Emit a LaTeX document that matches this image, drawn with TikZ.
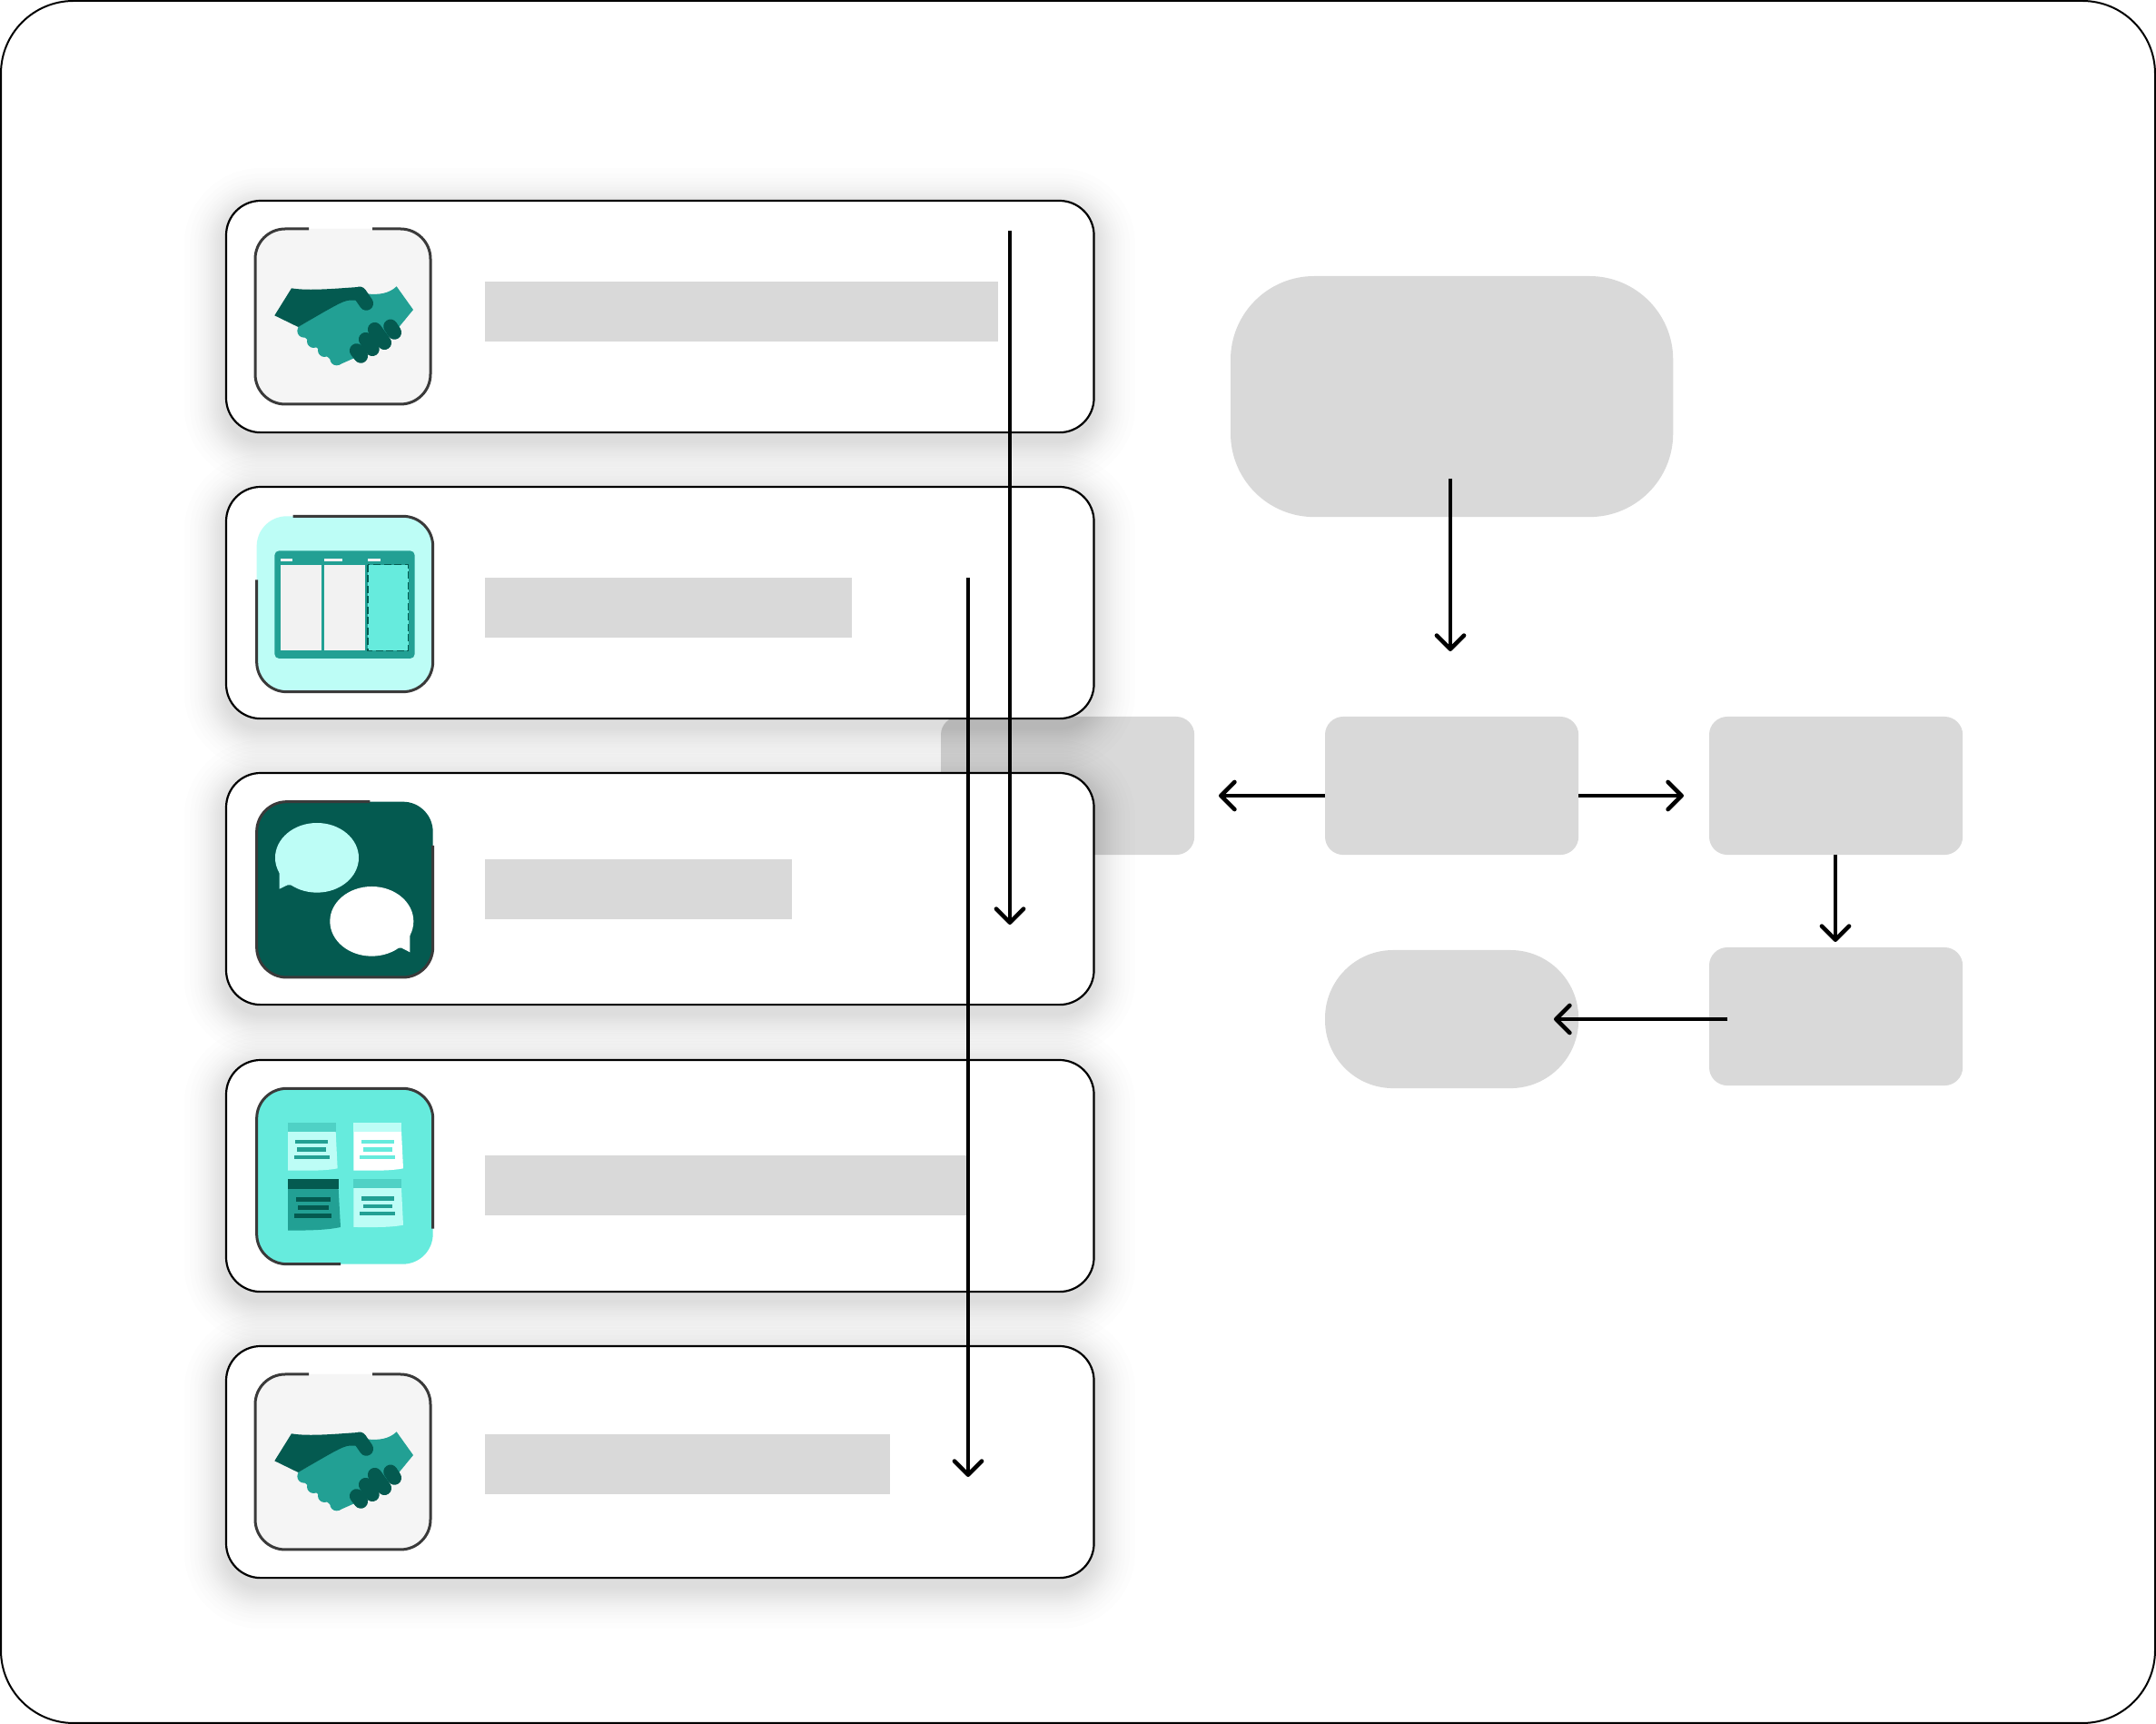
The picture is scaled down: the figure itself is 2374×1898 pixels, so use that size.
\documentclass[tikz,border=0pt]{standalone}
\usepackage{tikz}
\usetikzlibrary{arrows.meta,calc}
\usepackage{xcolor}

\definecolor{darkteal}{HTML}{045A50}
\definecolor{midteal}{HTML}{22A094}
\definecolor{softteal}{HTML}{4FD1C5}
\definecolor{brightteal}{HTML}{66EBDD}
\definecolor{paleteal}{HTML}{BDFDF6}
\definecolor{blockgray}{HTML}{D9D9D9}
\definecolor{iconedge}{HTML}{3A3A3A}

\tikzset{
  card/.style={draw=black, line width=.022cm, fill=white, rounded corners=.38cm,
    minimum width=9.55cm, minimum height=2.55cm, inner sep=0pt, outer sep=0pt, anchor=north west},
  bar/.style={fill=blockgray, minimum height=.66cm, inner sep=0pt, outer sep=0pt, anchor=north west},
  block/.style={fill=blockgray, rounded corners=.2cm, minimum width=2.79cm,
    minimum height=1.52cm, inner sep=0pt, outer sep=0pt, anchor=north west},
  flow/.style={line width=.047cm, -{Straight Barb[length=.15cm,width=.30cm,round]}},
  iconline/.style={draw=iconedge, line width=.03cm, rounded corners=.33cm},
  handshake/.pic={
    %% open hand, fingers, then the arm and thumb over it
    \fill[midteal] (265,450) -- (420,355) -- (490,340) .. controls (530,345) and (565,340) .. (590,316)
      -- (645,393) -- (590,460) -- (490,535) -- (400,575) -- (375,560) -- (270,470) -- cycle;
    \foreach \fx/\fy in {284/463, 316/497, 352/527, 392/555}
      \fill[midteal] (\fx,\fy) circle [radius=22];
    \fill[darkteal] (243,322) .. controls (300,332) and (400,322) .. (465,318) -- (470,362) -- (445,362)
      .. controls (420,360) and (410,365) .. (265,450) -- (187,412) -- cycle;
    \draw[darkteal, line width=.155cm, line cap=round] (468,340) -- (490,372);
    \foreach \ax/\ay/\bx/\by in {458/528/472/546, 488/491/510/523, 518/458/550/502, 570/448/583/468}
      \draw[darkteal, line width=.155cm, line cap=round] (\ax,\ay) -- (\bx,\by);
  }
}

\newcommand{\cardshadow}[2]{%
  \foreach \g in {46,40,35,31,28,25,22,20,18,16,14,12,10,8,6,4,2}{
    \pgfmathsetlengthmacro{\shadowcorner}{.38cm+\g*.01cm}
    \fill[black, opacity=.009, rounded corners=\shadowcorner]
      (249-\g,#1-\g+10) rectangle (1204+\g,#2+\g+10);
  }
}
\newcommand{\stickynote}[5]{%
  \begin{scope}[shift={(#1,#2)}]
    \fill[#4] (0,29) -- (158,29) -- (164,151) .. controls (120,160) and (60,158) .. (0,158) -- cycle;
    \fill[#3] (0,0) rectangle (158,29);
    \fill[#5] (25,57) rectangle (133,70);
    \fill[#5] (31,82) rectangle (127,95);
    \fill[#5] (21,107) rectangle (137,120);
  \end{scope}
}

\begin{document}
\begin{tikzpicture}[x=.01cm, y=-.01cm, >=Stealth]
  \useasboundingbox (0,0) rectangle (2374,1898);

  %% Outer frame
  \draw[black, line width=.02cm, fill=white, rounded corners=.8cm] (1,1) rectangle (2373,1897);

  %% Right-hand flow blocks
  \node[block, rounded corners=.92cm, minimum width=4.87cm, minimum height=2.65cm] (start) at (1355,304) {};
  \node[block] (blockleft)  at (1036,789) {};
  \node[block] (blockmid)   at (1459,789) {};
  \node[block] (blockright) at (1882,789) {};
  \node[block] (blocklow)   at (1882,1043) {};
  \node[block, rounded corners=.75cm] (finish) at (1459,1046) {};

  %% Cards (top to bottom)
  \cardshadow{221}{476}
  \node[card] (card1) at (249,221) {};
  \cardshadow{536}{791}
  \node[card] (card2) at (249,536) {};
  \cardshadow{851}{1106}
  \node[card] (card3) at (249,851) {};
  \cardshadow{1167}{1422}
  \node[card] (card4) at (249,1167) {};
  \cardshadow{1482}{1737}
  \node[card] (card5) at (249,1482) {};

  %% Placeholder bars
  \node[bar, minimum width=5.65cm] (bar1) at (534,310) {};
  \node[bar, minimum width=4.04cm] (bar2) at (534,636) {};
  \node[bar, minimum width=3.38cm] (bar3) at (534,946) {};
  \node[bar, minimum width=5.30cm] (bar4) at (534,1272) {};
  \node[bar, minimum width=4.46cm] (bar5) at (534,1579) {};

  %% Icon 1 -- handshake
  \fill[gray!8, rounded corners=.33cm] (281,252) rectangle (474,445);
  \draw[iconline] (410,252) -- (474,252) -- (474,445) -- (281,445) -- (281,252) -- (340,252);
  \pic[scale=1/3] at (240,210) {handshake};

  %% Icon 2 -- board
  \begin{scope}[shift={(260,551)}, scale=1/3]
    \fill[paleteal, rounded corners=.33cm] (68,52) rectangle (650,632);
    \draw[iconline] (188,52) -- (650,52) -- (650,632) -- (68,632) -- (68,262);
    \fill[midteal, rounded corners=.05cm] (127,166) rectangle (590,522);
    \fill[gray!10] (147,192) rectangle (186,202);
    \fill[gray!10] (290,192) rectangle (352,202);
    \fill[gray!10] (435,192) rectangle (478,202);
    \fill[gray!10] (148,212) rectangle (282,496);
    \fill[gray!10] (291,212) rectangle (425,496);
    \draw[darkteal, fill=brightteal, line width=.015cm, dash pattern=on .08cm off .035cm] (435,212) rectangle (569,496);
  \end{scope}

  %% Icon 3 -- speech bubbles
  \begin{scope}[shift={(260,861)}, scale=1/3]
    \fill[darkteal, rounded corners=.33cm] (68,65) rectangle (650,645);
    \draw[iconline] (442,65) -- (68,65) -- (68,645) -- (650,645) -- (650,210);
    \fill[paleteal] (267,250) ellipse [x radius=138, y radius=115];
    \fill[paleteal] (143,290) -- (143,353) -- (170,340) -- (200,340) -- cycle;
    \fill[white] (448,460) ellipse [x radius=138, y radius=115];
    \fill[white] (574,500) -- (574,562) -- (547,548) -- (520,548) -- cycle;
  \end{scope}

  %% Icon 4 -- sticky notes
  \begin{scope}[shift={(260,1181)}, scale=1/3]
    \fill[brightteal, rounded corners=.33cm] (68,52) rectangle (650,632);
    \draw[iconline] (345,632) -- (68,632) -- (68,52) -- (650,52) -- (650,515);
    \stickynote{171}{165}{softteal}{paleteal}{midteal}
    \stickynote{388}{165}{paleteal}{white}{brightteal}
    \stickynote{388}{352}{softteal}{paleteal}{midteal}
    \fill[midteal] (171,383) -- (338,383) -- (345,510) .. controls (300,520) and (240,521) .. (171,521) -- cycle;
    \fill[darkteal] (171,352) rectangle (338,383);
    \fill[darkteal] (197,412) rectangle (312,426);
    \fill[darkteal] (204,438) rectangle (306,452);
    \fill[darkteal] (193,465) rectangle (316,479);
  \end{scope}

  %% Icon 5 -- handshake again
  \fill[gray!8, rounded corners=.33cm] (281,1513) rectangle (474,1706);
  \draw[iconline] (410,1513) -- (474,1513) -- (474,1706) -- (281,1706) -- (281,1513) -- (340,1513);
  \pic[scale=1/3] at (240,1471) {handshake};

  %% Arrow ends
  \coordinate (longtop)  at (1112,254);
  \coordinate (longend)  at (1112,1018);
  \coordinate (nexttop)  at (1066,636);
  \coordinate (nextend)  at (1066,1626);
  \coordinate (startout) at (1597,527);
  \coordinate (startend) at (1597,717);
  \coordinate (leftend)  at (1342,876);
  \coordinate (rightend) at (1854,876);
  \coordinate (lowend)   at (2021,1037);
  \coordinate (lowout)   at (1902,1122);
  \coordinate (pillend)  at (1711,1122);

  %% Connectors
  \draw[flow] (longtop) -- (longend);
  \draw[flow] (nexttop) -- (nextend);
  \draw[flow] (startout) -- (startend);
  \draw[flow] (blockmid.west |- leftend) -- (leftend);
  \draw[flow] (blockmid.east |- rightend) -- (rightend);
  \draw[flow] (blockright.south -| lowend) -- (lowend);
  \draw[flow] (lowout) -- (pillend);
\end{tikzpicture}
\end{document}
